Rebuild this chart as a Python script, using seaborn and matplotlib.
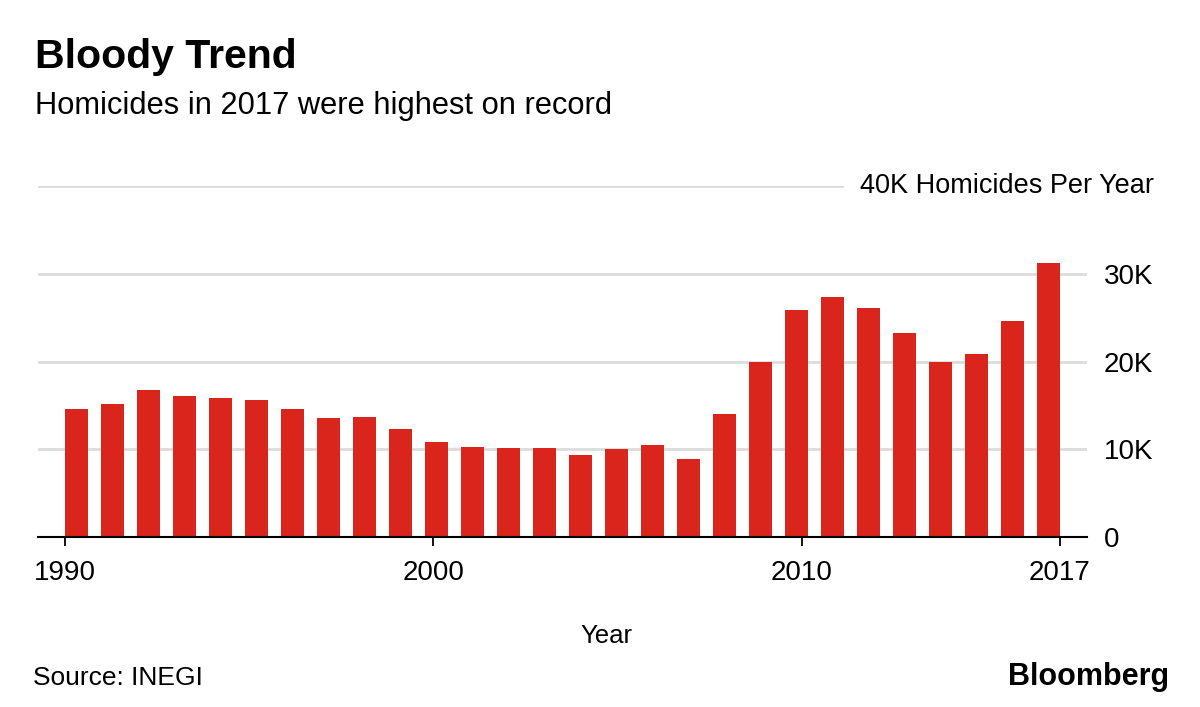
import numpy as np
import pandas as pd
import matplotlib
matplotlib.use('Agg')
import matplotlib.pyplot as plt
import seaborn as sns

# values (homicides per year)
years = list(range(1990, 2018))
homicides = [14600, 15200, 16700, 16100, 15800, 15600, 14600, 13500, 13700, 12300,
             10800, 10200, 10100, 10100, 9300, 10000, 10500, 8900, 14000, 19900,
             25900, 27400, 26100, 23200, 20000, 20900, 24600, 31300]
tick_years = [1990, 2000, 2010, 2017]
ytick_vals = [0, 10000, 20000, 30000, 40000]
ytick_labels = ['0', '10K', '20K', '30K', '']

sns.set_theme(style='white')
plt.rcParams['font.family'] = ['Liberation Sans', 'DejaVu Sans']
plt.rcParams['text.color'] = 'black'
plt.rcParams['xtick.color'] = 'black'
plt.rcParams['ytick.color'] = 'black'

df = pd.DataFrame({'Year': years, 'Homicides': homicides})

fig = plt.figure(figsize=(12, 7.07), dpi=100)
ax = fig.add_axes([0.0317, 0.2409, 0.874, 0.4955])

bar_w = 0.64
sns.barplot(data=df, x='Year', y='Homicides', native_scale=True, width=bar_w,
            color='#da251d', saturation=1, errorbar=None, linewidth=0, ax=ax)

# x ticks spread evenly from left edge of first bar to right edge of last bar
first, span = years[0], years[-1] - years[0]
tick_pos = [first - bar_w / 2 + (t - first) * (span + bar_w) / span for t in tick_years]
ax.set_xticks(tick_pos)
ax.set_xticklabels([str(t) for t in tick_years])
ax.set_xlim(1988.93, 2018.07)
ax.tick_params(axis='x', length=6.5, width=1.3, color='black', labelcolor='black',
               direction='out', labelsize=20, pad=10, bottom=True)

ax.set_ylim(0, 40000)
ax.set_yticks(ytick_vals)
ax.set_yticklabels(ytick_labels)
ax.yaxis.tick_right()
ax.tick_params(axis='y', length=0, labelsize=20, labelcolor='black', pad=12)
ax.yaxis.grid(True, color='#dcdcdc', linewidth=2)
ax.set_axisbelow(True)

for s in ['top', 'left', 'right']:
    ax.spines[s].set_visible(False)
ax.spines['bottom'].set_color('black')
ax.spines['bottom'].set_linewidth(1.5)
ax.spines['bottom'].set_zorder(5)

ax.set_xlabel('')
ax.set_ylabel('')

ax.text(1.064, 40000, '40K Homicides Per Year', transform=ax.get_yaxis_transform(),
        ha='right', va='center', fontsize=19.5, color='black', clip_on=False,
        bbox=dict(facecolor='white', edgecolor='none', boxstyle='square,pad=0.6'))

fig.text(35 / 1200, 1 - 68.3 / 707, 'Bloody Trend', fontsize=29.5, fontweight='bold',
         va='baseline', color='black')
fig.text(35 / 1200, 1 - 114.3 / 707, 'Homicides in 2017 were highest on record',
         fontsize=22.2, va='baseline', color='black')
fig.text(606 / 1200, 1 - 643.3 / 707, 'Year', fontsize=18.5, ha='center', va='baseline',
         color='black')
fig.text(33 / 1200, 1 - 685 / 707, 'Source: INEGI', fontsize=19, va='baseline',
         color='black')
fig.text(1169 / 1200, 1 - 685 / 707, 'Bloomberg', fontsize=22, fontweight='bold',
         ha='right', va='baseline', color='black')

fig.savefig('out.png', dpi=100)
